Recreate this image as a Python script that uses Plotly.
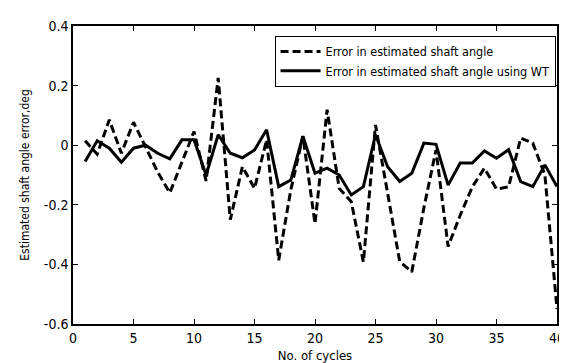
import plotly.graph_objects as go

cycles = list(range(1, 41))
err_est = [0.015, -0.03, 0.085, -0.027, 0.077, -0.005, -0.09, -0.16, -0.055, 0.046,
           -0.12, 0.226, -0.25, -0.072, -0.145, 0.018, -0.386, -0.15, 0.03, -0.263,
           0.119, -0.145, -0.19, -0.392, 0.068, -0.16, -0.39, -0.425, -0.21, -0.016,
           -0.34, -0.235, -0.14, -0.077, -0.147, -0.14, 0.024, 0.007, -0.1, -0.55]
err_wt = [-0.055, 0.015, -0.01, -0.057, -0.01, 0.0, -0.027, -0.046, 0.018, 0.018,
          -0.1, 0.035, -0.027, -0.042, -0.016, 0.052, -0.139, -0.117, 0.03, -0.094,
          -0.077, -0.1, -0.167, -0.139, 0.035, -0.072, -0.122, -0.094, 0.007, 0.003,
          -0.134, -0.06, -0.06, -0.019, -0.044, -0.015, -0.122, -0.139, -0.066, -0.139]
xticks = [0, 5, 10, 15, 20, 25, 30, 35, 40]
yticks = [0.4, 0.2, 0, -0.2, -0.4, -0.6]
ytick_labels = ["0.4", "0.2", "0", "-0.2", "-0.4", "-0.6"]
names = ["Error in estimated shaft angle", "Error in estimated shaft angle using WT"]

FONT = "'DejaVu Sans Condensed', 'Liberation Sans Narrow', 'Arial Narrow', sans-serif"

fig = go.Figure()
fig.add_trace(go.Scatter(x=cycles, y=err_est, mode="lines", name=names[0],
                         line=dict(color="black", width=3, dash="8px,4px")))
fig.add_trace(go.Scatter(x=cycles, y=err_wt, mode="lines", name=names[1],
                         line=dict(color="black", width=3)))

axis_common = dict(showgrid=False, zeroline=False, showline=True, linecolor="black",
                   linewidth=1.5, mirror="ticks", ticks="inside", ticklen=5,
                   tickcolor="black", tickwidth=1, tickfont=dict(family=FONT, size=14, color="black"))

fig.update_xaxes(range=[0, 40], tickvals=xticks, **axis_common,
                 title=dict(text="No. of cycles", font=dict(family=FONT, size=13, color="black"), standoff=6))
fig.update_yaxes(range=[-0.6, 0.4], tickvals=yticks, ticktext=ytick_labels, **axis_common,
                 title=dict(text="Estimated shaft angle error,deg", font=dict(family=FONT, size=12, color="black"), standoff=12))

fig.update_layout(
    width=567, height=363,
    margin=dict(l=65, r=10, t=18, b=47),
    paper_bgcolor="white", plot_bgcolor="white",
    font=dict(family=FONT, color="black"),
    legend=dict(x=0.997, xanchor="right", y=0.967, yanchor="top",
                bgcolor="white", bordercolor="black", borderwidth=1,
                font=dict(family=FONT, size=12.5, color="black"),
                itemwidth=40, tracegroupgap=0),
)

fig.write_html("out.html")
